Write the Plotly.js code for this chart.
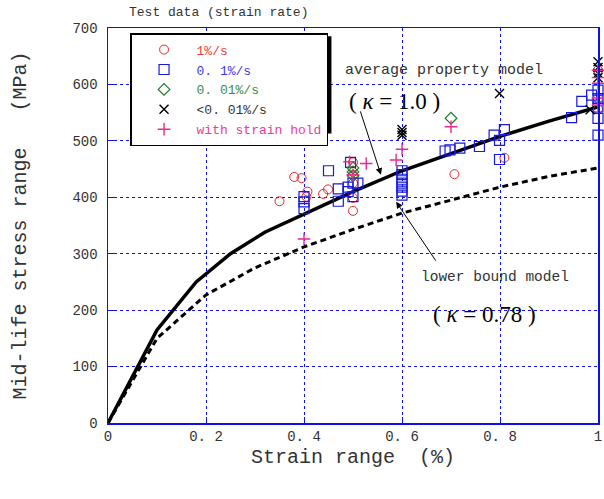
<!DOCTYPE html>
<html><head><meta charset="utf-8">
<script src="https://cdn.plot.ly/plotly-3.0.1.min.js"></script>
<style>body{margin:0;background:#fff}</style></head>
<body><div id="c" style="width:604px;height:499px"></div>
<script>
// Test data (strain range %, mid-life stress range MPa)
const rate1_x = [0.35,0.38,0.395,0.405,0.407,0.439,0.449,0.5,0.5,0.5,0.5,0.5,0.707,0.809,1.0,1.0,1.0];
const rate1_y = [393,436,434,401,410,406,414,399,376,462,440,425,441,470,556,575,625];
const rate01_x = [0.40,0.40,0.40,0.45,0.47,0.47,0.49,0.49,0.495,0.5,0.5,0.51,0.6,0.6,0.6,0.6,0.6,0.6,0.6,0.688,0.698,0.718,0.758,0.788,0.799,0.799,0.809,0.946,0.967,0.987,1.0,1.0,1.0,1.0,1.0];
const rate01_y = [401,392,380,447,415,393,418,410,462,425,401,425,447,440,432,425,418,411,404,482,484,487,490,510,501,467,520,541,570,581,510,540,560,575,590];
const rate001_x = [0.5,0.5,0.5,0.7];
const rate001_y = [452,445,438,540];
const rateLow_x = [0.6,0.6,0.6,0.799,0.984,1.0,1.0,1.0,1.0];
const rateLow_y = [520,515,510,584,555,640,630,620,612];
const hold_x = [0.40,0.493,0.527,0.5,0.6,0.588,0.7,1.0,1.0,1.0,1.0,1.0];
const hold_y = [326,463,460,440,485,466,525,625,612,602,576,563];
// Model curves
const avg_x = [0,0.1,0.18,0.25,0.32,0.4,0.5,0.6,0.7,0.8,0.9,1.0];
const avg_y = [0,165,250,300,338,370,410,447,478,508,535,560];
const low_x = [0,0.1,0.2,0.3,0.4,0.5,0.6,0.7,0.8,0.9,1.0];
const low_y = [0,150,227,275,312,343,372,395,418,437,452];
const xTicks = [0,0.2,0.4,0.6,0.8,1];
const xTickText = ['0','0. 2','0. 4','0. 6','0. 8','1'];
const yTicks = [0,100,200,300,400,500,600,700];

const mono = 'Liberation Mono, DejaVu Sans Mono, monospace';
const serif = 'Liberation Serif, DejaVu Serif, serif';
const BLUE = '#1010e8';

const traces = [
  {x:avg_x,y:avg_y,mode:'lines',line:{color:'#000',width:3.5},showlegend:false,hoverinfo:'skip'},
  {x:low_x,y:low_y,mode:'lines',line:{color:'#000',width:3,dash:'6px,4px'},showlegend:false,hoverinfo:'skip'},
  {x:rate1_x,y:rate1_y,mode:'markers',name:'<span style="color:#f03c3c">1%/s</span>',cliponaxis:false,
   marker:{symbol:'circle-open',size:9,color:'#e8282d',line:{width:1}}},
  {x:rate01_x,y:rate01_y,mode:'markers',name:'<span style="color:#3c3ce6">0. 1%/s</span>',cliponaxis:false,
   marker:{symbol:'square-open',size:10,color:'#1818e0',line:{width:1.2}}},
  {x:rate001_x,y:rate001_y,mode:'markers',name:'<span style="color:#3a8a46">0. 01%/s</span>',cliponaxis:false,
   marker:{symbol:'diamond-open',size:9,color:'#1e7a2a',line:{width:1.2}}},
  {x:rateLow_x,y:rateLow_y,mode:'markers',name:'<span style="color:#333">&lt;0. 01%/s</span>',cliponaxis:false,
   marker:{symbol:'x-thin-open',size:9,color:'#000',line:{width:1.4}}},
  {x:hold_x,y:hold_y,mode:'markers',name:'<span style="color:#ec3c9c">with strain hold</span>',cliponaxis:false,
   marker:{symbol:'cross-thin-open',size:9,color:'#ec2a8e',line:{width:1.4}}}
];

const layout = {
  width:604,height:499,
  margin:{l:108,r:6,t:28,b:76},
  paper_bgcolor:'#fff',plot_bgcolor:'#fff',
  font:{family:mono,color:'#333',size:13},
  showlegend:true,
  legend:{x:0.045,y:0.987,xanchor:'left',yanchor:'top',bgcolor:'#fff',bordercolor:'#000',borderwidth:1.5,
    font:{family:mono,size:13},itemwidth:55,tracegroupgap:0},
  xaxis:{range:[0,1],tickvals:xTicks,ticktext:xTickText,showgrid:true,gridcolor:BLUE,griddash:'dot',gridwidth:1,
    showline:true,linecolor:BLUE,linewidth:1.5,mirror:true,ticks:'inside',ticklen:6,tickcolor:BLUE,zeroline:false,
    tickfont:{family:mono,size:14,color:'#333'},
    title:{text:'Strain range\u00A0\u00A0(%)',font:{family:mono,size:20,color:'#333'},standoff:4}},
  yaxis:{range:[0,700],tickvals:yTicks,showgrid:true,gridcolor:BLUE,griddash:'dot',gridwidth:1,
    showline:true,linecolor:BLUE,linewidth:1.5,mirror:true,ticks:'inside',ticklen:6,tickcolor:BLUE,zeroline:false,
    tickfont:{family:mono,size:14,color:'#333'},ticklabelstandoff:6,
    title:{text:'Mid-life stress range\u00A0\u00A0\u00A0(MPa)',font:{family:mono,size:20,color:'#333'},standoff:40}},
  shapes:[
    {type:'rect',xref:'paper',yref:'paper',x0:0.051,x1:0.456,y0:0.733,y1:0.979,fillcolor:'#000',line:{width:0},layer:'above'}
  ],
  annotations:[
    {xref:'paper',yref:'paper',x:0.039,y:1.04,xanchor:'left',yanchor:'middle',showarrow:false,text:'Test data (strain rate)',font:{family:mono,size:13,color:'#333'}},
    {x:0.686,y:625,showarrow:false,text:'average property model',font:{family:mono,size:15,color:'#333'}},
    {x:0.584,y:569,showarrow:false,text:'( <i>κ</i> = 1.0 )',font:{family:serif,size:23,color:'#000'}},
    {x:0.79,y:259,showarrow:false,text:'lower bound model',font:{family:mono,size:14.5,color:'#333'}},
    {x:0.769,y:193,showarrow:false,text:'( <i>κ</i> = 0.78 )',font:{family:serif,size:23,color:'#000'}},
    {x:0.557,y:440,ax:0.514,ay:555,axref:'x',ayref:'y',showarrow:true,arrowhead:2,arrowsize:1.3,arrowwidth:1,arrowcolor:'#000',text:''},
    {x:0.588,y:392,ax:0.671,ay:285,axref:'x',ayref:'y',showarrow:true,arrowhead:2,arrowsize:1.3,arrowwidth:1,arrowcolor:'#000',text:''}
  ]
};
Plotly.newPlot('c',traces,layout,{displayModeBar:false,staticPlot:true});
</script></body></html>
